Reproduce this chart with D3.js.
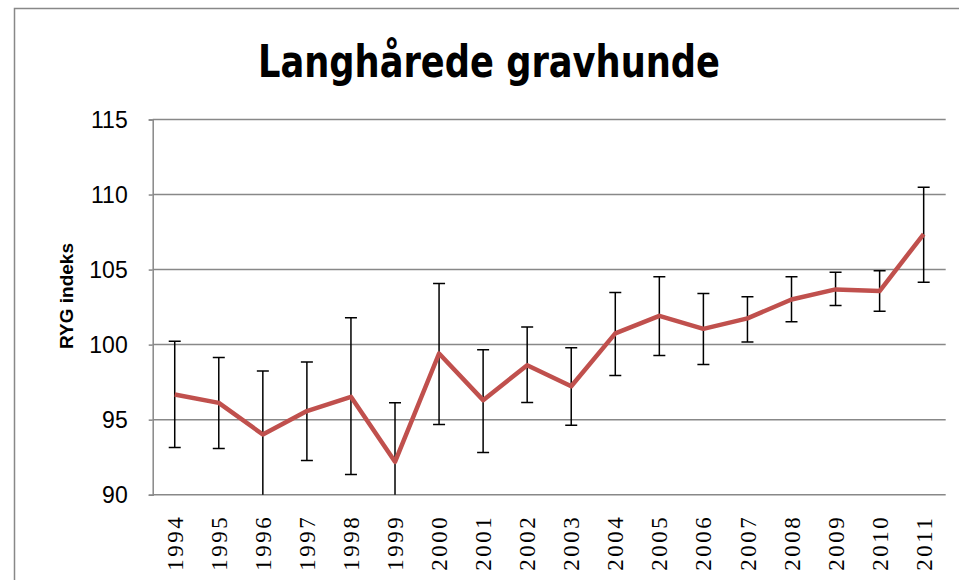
<!DOCTYPE html>
<html>
<head>
<meta charset="utf-8">
<script src="https://d3js.org/d3.v7.min.js"></script>
<style>
    body { margin: 0; background: #fff; }
    svg { display: block; }
</style>
</head>
<body>
<div id="chart"></div>
<script>
// values
var years = ["1994", "1995", "1996", "1997", "1998", "1999", "2000", "2001", "2002",
    "2003", "2004", "2005", "2006", "2007", "2008", "2009", "2010", "2011"];
var ryg = [96.68, 96.12, 94.01, 95.57, 96.52, 92.19, 99.41, 96.30, 98.63,
    97.23, 100.75, 101.92, 101.05, 101.75, 103.01, 103.68, 103.57, 107.37];
var upper = [100.23, 99.15, 98.25, 98.85, 101.79, 96.12, 104.08, 99.65, 101.17,
    99.79, 103.48, 104.52, 103.41, 103.19, 104.52, 104.83, 104.92, 110.48];
var lower = [93.15, 93.08, 89.77, 92.28, 91.35, 88.26, 94.68, 92.81, 96.15,
    94.63, 97.95, 99.28, 98.68, 100.17, 101.52, 102.61, 102.23, 104.15];
var yTicks = [90, 95, 100, 105, 110, 115];

var W = 959, H = 580;
var plotLeft = 152.7, plotRight = 945.7, plotTop = 119.5, plotBottom = 494.7;

var svg = d3.select("#chart").append("svg")
    .attr("width", W)
    .attr("height", H);

// outer chart frame (only top and left show in the picture)
svg.append("path")
    .attr("d", "M14.5," + H + "V8.5H" + W)
    .attr("fill", "none")
    .attr("stroke", "#888")
    .attr("stroke-width", 1.5);

var x = d3.scaleBand().domain(years).range([plotLeft, plotRight]).padding(0);
var y = d3.scaleLinear().domain([90, 115]).range([plotBottom, plotTop]);

// title
svg.append("text")
    .attr("x", 489)
    .attr("y", 77)
    .attr("text-anchor", "middle")
    .attr("textLength", 462)
    .attr("lengthAdjust", "spacingAndGlyphs")
    .style("font-family", "'Liberation Sans Narrow', 'DejaVu Sans Condensed', sans-serif")
    .style("font-weight", "bold")
    .style("font-size", "44px")
    .text("Langhårede gravhunde");

// gridlines
svg.append("g")
    .selectAll("line")
    .data(yTicks)
    .enter()
    .append("line")
    .attr("x1", plotLeft)
    .attr("x2", plotRight)
    .attr("y1", function (d) { return y(d); })
    .attr("y2", function (d) { return y(d); })
    .attr("stroke", "#888")
    .attr("stroke-width", 1.5);

// y axis
var yAxis = svg.append("g")
    .attr("transform", "translate(" + plotLeft + ",0)")
    .call(d3.axisLeft(y).tickValues(yTicks).tickSize(4).tickPadding(21));
yAxis.select(".domain").attr("stroke", "#888").attr("stroke-width", 1.5);
yAxis.selectAll(".tick line").attr("stroke", "#888").attr("stroke-width", 1.5);
yAxis.selectAll(".tick text")
    .attr("dy", "0.36em")
    .style("font-family", "'Liberation Sans', Arial, sans-serif")
    .style("font-size", "23px")
    .attr("fill", "#000");

svg.append("text")
    .attr("transform", "translate(73,296) rotate(-90)")
    .attr("text-anchor", "middle")
    .style("font-family", "'Liberation Sans', Arial, sans-serif")
    .style("font-weight", "bold")
    .style("font-size", "19px")
    .text("RYG indeks");

// x labels, rotated
var xAxis = svg.append("g")
    .attr("transform", "translate(0," + plotBottom + ")")
    .call(d3.axisBottom(x).tickSize(0).tickPadding(0));
xAxis.select(".domain").remove();
xAxis.selectAll(".tick text")
    .attr("transform", "translate(0,76) rotate(-90)")
    .attr("text-anchor", "start")
    .attr("x", 0)
    .attr("y", 0)
    .attr("dy", "0.35em")
    .style("font-family", "'Liberation Serif', 'Times New Roman', serif")
    .style("font-size", "23px")
    .style("letter-spacing", "2.5px")
    .attr("fill", "#000");

// clip for error bars
svg.append("clipPath").attr("id", "plot")
    .append("rect")
    .attr("x", plotLeft).attr("y", plotTop)
    .attr("width", plotRight - plotLeft).attr("height", plotBottom - plotTop);

var cx = function (i) { return x(years[i]) + x.bandwidth() / 2; };

var bars = svg.append("g").attr("clip-path", "url(#plot)")
    .selectAll("g")
    .data(ryg)
    .enter()
    .append("g");
bars.append("line")
    .attr("x1", function (d, i) { return cx(i); })
    .attr("x2", function (d, i) { return cx(i); })
    .attr("y1", function (d, i) { return y(upper[i]); })
    .attr("y2", function (d, i) { return y(lower[i]); })
    .attr("stroke", "#000")
    .attr("stroke-width", 1.5);
bars.selectAll(".cap")
    .data(function (d, i) { return [[i, upper[i]], [i, lower[i]]]; })
    .enter()
    .append("line")
    .attr("class", "cap")
    .attr("x1", function (d) { return cx(d[0]) - 6; })
    .attr("x2", function (d) { return cx(d[0]) + 6; })
    .attr("y1", function (d) { return y(d[1]); })
    .attr("y2", function (d) { return y(d[1]); })
    .attr("stroke", "#000")
    .attr("stroke-width", 1.5);

// the series line
svg.append("path")
    .datum(ryg)
    .attr("d", d3.line()
        .x(function (d, i) { return cx(i); })
        .y(function (d) { return y(d); }))
    .attr("fill", "none")
    .attr("stroke", "#C0504D")
    .attr("stroke-width", 4.5)
    .attr("stroke-linejoin", "round");
</script>
</body>
</html>
